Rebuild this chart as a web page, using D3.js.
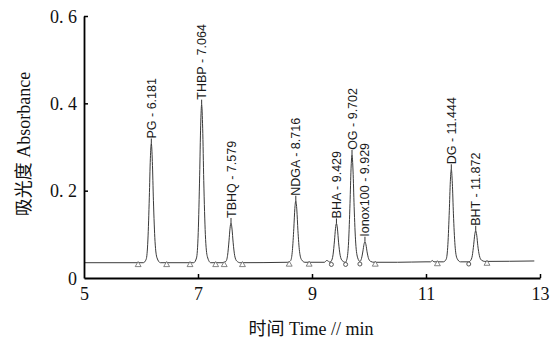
<!DOCTYPE html>
<html>
<head>
<meta charset="utf-8">
<script src="https://cdn.jsdelivr.net/npm/d3@7"></script>
<style>
  body { margin: 0; background: #fff; }
  svg { display: block; }
</style>
</head>
<body>
<div id="chart"></div>
<script>
// chromatogram trace: [time (min), absorbance]
const trace = [
  [5.0, 0.035],
  // PG
  [6.041, 0.035], [6.091, 0.043], [6.121, 0.087], [6.146, 0.185], [6.164, 0.273],
  [6.181, 0.308], [6.199, 0.267], [6.218, 0.177], [6.246, 0.084], [6.281, 0.046], [6.341, 0.035],
  // THBP
  [6.924, 0.035], [6.974, 0.046], [7.004, 0.104], [7.029, 0.234], [7.047, 0.350],
  [7.064, 0.397], [7.082, 0.343], [7.101, 0.223], [7.129, 0.100], [7.164, 0.049], [7.224, 0.035],
  // TBHQ
  [7.439, 0.035], [7.489, 0.038], [7.519, 0.052], [7.544, 0.085], [7.562, 0.114],
  [7.579, 0.126], [7.597, 0.112], [7.616, 0.082], [7.644, 0.051], [7.679, 0.039], [7.739, 0.035],
  // NDGA
  [8.576, 0.036], [8.626, 0.040], [8.656, 0.063], [8.681, 0.114], [8.699, 0.159],
  [8.716, 0.177], [8.734, 0.156], [8.753, 0.109], [8.781, 0.061], [8.816, 0.042], [8.876, 0.036],
  // small wiggle before BHA
  [9.22, 0.036], [9.255, 0.040], [9.285, 0.039], [9.31, 0.036],
  // BHA
  [9.339, 0.039], [9.369, 0.053], [9.394, 0.085], [9.412, 0.113],
  [9.429, 0.125], [9.447, 0.112], [9.466, 0.082], [9.494, 0.052], [9.529, 0.040], [9.585, 0.036],
  // OG
  [9.612, 0.043], [9.642, 0.083], [9.667, 0.171], [9.685, 0.250],
  [9.702, 0.282], [9.720, 0.245], [9.739, 0.164], [9.767, 0.080], [9.802, 0.046], [9.84, 0.038],
  // Ionox100
  [9.869, 0.045], [9.894, 0.062], [9.912, 0.077],
  [9.929, 0.083], [9.947, 0.076], [9.966, 0.060], [9.994, 0.044], [10.029, 0.038], [10.089, 0.036],
  [10.5, 0.036], [11.0, 0.037],
  // small bump
  [11.08, 0.037], [11.11, 0.040], [11.14, 0.037], [11.2, 0.037],
  // DG
  [11.304, 0.037], [11.354, 0.043], [11.384, 0.077], [11.409, 0.154], [11.427, 0.221],
  [11.444, 0.249], [11.462, 0.217], [11.481, 0.147], [11.509, 0.075], [11.544, 0.045], [11.604, 0.037],
  [11.75, 0.037],
  // BHT
  [11.782, 0.040], [11.812, 0.051], [11.837, 0.077], [11.855, 0.099],
  [11.872, 0.108], [11.890, 0.098], [11.909, 0.074], [11.937, 0.051], [11.972, 0.041], [12.032, 0.038],
  [12.9, 0.039]
];

// peak labels: name, retention time, apex absorbance
const peakNames = ['PG', 'THBP', 'TBHQ', 'NDGA', 'BHA', 'OG', 'Ionox100', 'DG', 'BHT'];
const peakTimes = ['6.181', '7.064', '7.579', '8.716', '9.429', '9.702', '9.929', '11.444', '11.872'];
const peakHeights = [0.308, 0.397, 0.126, 0.177, 0.125, 0.282, 0.083, 0.249, 0.108];

// integration markers on the baseline
const triangleMarks = [[5.95, 0.030], [6.45, 0.030], [6.86, 0.030], [7.31, 0.030], [7.46, 0.030],
  [7.78, 0.030], [8.60, 0.031], [8.95, 0.031], [10.11, 0.031], [11.20, 0.032], [12.07, 0.033]];
const circleMarks = [[9.34, 0.031], [9.59, 0.031], [9.84, 0.032], [11.75, 0.032]];

const xTicks = [5, 7, 9, 11, 13];
const yTicks = [0, 0.2, 0.4, 0.6];

const width = 560, height = 340;
const margin = { top: 16, right: 20, bottom: 62, left: 84 };

const x = d3.scaleLinear().domain([5, 13]).range([margin.left, width - margin.right]);
const y = d3.scaleLinear().domain([0, 0.6]).range([height - margin.bottom, margin.top]);

const svg = d3.select('#chart')
  .append('svg')
  .attr('width', width)
  .attr('height', height);

svg.append('rect').attr('width', width).attr('height', height).attr('fill', '#fff');

const serif = '"Liberation Serif", "Times New Roman", "Noto Sans CJK SC", serif';
const sans = '"Liberation Sans", Arial, sans-serif';

// trace
const line = d3.line()
  .x((d) => x(d[0]))
  .y((d) => y(d[1]))
  .curve(d3.curveMonotoneX);

svg.append('path')
  .datum(trace)
  .attr('fill', 'none')
  .attr('stroke', '#3a3a3a')
  .attr('stroke-width', 1)
  .attr('d', line);

// markers
svg.selectAll('.tri')
  .data(triangleMarks)
  .join('path')
  .attr('class', 'tri')
  .attr('transform', (d) => `translate(${x(d[0])},${y(d[1])})`)
  .attr('d', d3.symbol(d3.symbolTriangle, 15))
  .attr('fill', '#fff')
  .attr('stroke', '#666')
  .attr('stroke-width', 0.8);

svg.selectAll('.circ')
  .data(circleMarks)
  .join('circle')
  .attr('class', 'circ')
  .attr('cx', (d) => x(d[0]))
  .attr('cy', (d) => y(d[1]))
  .attr('r', 2)
  .attr('fill', '#fff')
  .attr('stroke', '#444')
  .attr('stroke-width', 0.9);

// peak labels with short leader
const peaks = peakNames.map((n, i) => ({ name: n, t: peakTimes[i], h: peakHeights[i] }));

svg.selectAll('.leader')
  .data(peaks)
  .join('line')
  .attr('class', 'leader')
  .attr('x1', (d) => x(+d.t))
  .attr('x2', (d) => x(+d.t))
  .attr('y1', (d) => y(d.h))
  .attr('y2', (d) => y(d.h) - 5)
  .attr('stroke', '#333')
  .attr('stroke-width', 1);

svg.selectAll('.plabel')
  .data(peaks)
  .join('text')
  .attr('class', 'plabel')
  .attr('transform', (d) => `translate(${x(+d.t)},${y(d.h) - 5}) rotate(-90)`)
  .attr('dy', '0.36em')
  .style('font-family', sans)
  .style('font-size', '12.5px')
  .style('fill', '#1a1a1a')
  .text((d) => `${d.name} - ${d.t}`);

// axes
const xAxis = svg.append('g')
  .attr('transform', `translate(0,${y(0)})`)
  .call(d3.axisBottom(x).tickValues(xTicks).tickSizeInner(-4).tickSizeOuter(0).tickPadding(9)
    .tickFormat(d3.format('d')));

const yAxis = svg.append('g')
  .attr('transform', `translate(${x(5)},0)`)
  .call(d3.axisLeft(y).tickValues(yTicks).tickSizeInner(-4).tickSizeOuter(0).tickPadding(7)
    .tickFormat((d) => (d === 0 ? '0' : d3.format('.1f')(d).replace('.', '. '))));

[xAxis, yAxis].forEach((g) => {
  g.select('.domain').attr('stroke', '#000').attr('stroke-width', 1.8);
  g.selectAll('.tick line').attr('stroke', '#000').attr('stroke-width', 1.5);
  g.selectAll('.tick text')
    .style('font-family', serif)
    .style('font-size', '18px')
    .style('fill', '#111');
});
xAxis.selectAll('.tick').filter((d) => d === 5).select('line').remove();
yAxis.selectAll('.tick').filter((d) => d === 0).select('line').remove();
yAxis.selectAll('.tick text').attr('dy', '0.34em');

// axis titles
svg.append('text')
  .attr('x', 311)
  .attr('y', 335)
  .attr('text-anchor', 'middle')
  .style('font-family', serif)
  .style('font-size', '18px')
  .style('fill', '#111')
  .text('时间 Time // min');

svg.append('text')
  .attr('transform', 'translate(30,144) rotate(-90)')
  .attr('text-anchor', 'middle')
  .style('font-family', serif)
  .style('font-size', '18px')
  .style('fill', '#111')
  .text('吸光度 Absorbance');
</script>
</body>
</html>
